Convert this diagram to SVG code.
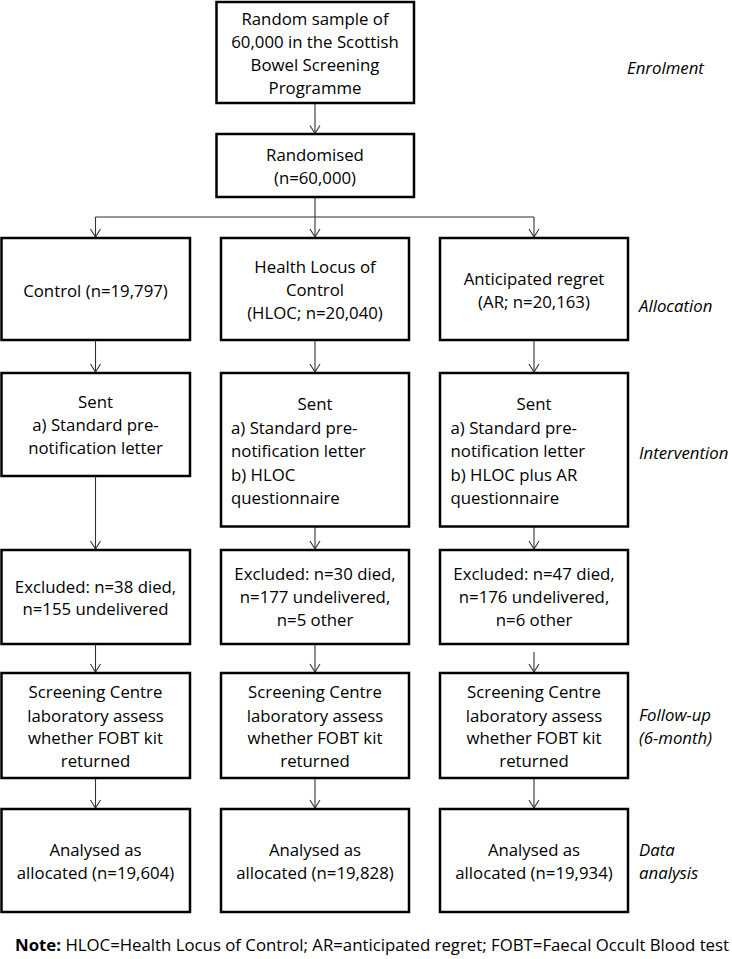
<svg xmlns="http://www.w3.org/2000/svg" width="732" height="959" viewBox="0 0 732 959">
<style>
.box{fill:#fff;stroke:#000;stroke-width:2.5}
.t{font-family:"Open Sans","Liberation Sans",sans-serif;font-size:16.8px;fill:#000;text-anchor:middle}
.l{text-anchor:start}
.lab{font-family:"Open Sans","Liberation Sans",sans-serif;font-size:16.8px;font-style:italic;fill:#000}
.c{fill:none;stroke:#333;stroke-width:1.1}
</style>
<defs>
<marker id="ah" viewBox="-9 -6 10 12" refX="0" refY="0" markerWidth="10" markerHeight="12" markerUnits="userSpaceOnUse" orient="auto">
<path d="M-8,-5 L0,0 L-8,5" fill="none" stroke="#333" stroke-width="1.1"/>
</marker>
</defs>
<rect width="732" height="959" fill="#fff"/>
<g id="connectors">
<path class="c" d="M315,103 V133.5" marker-end="url(#ah)"/>
<path class="c" d="M315,197 V237" marker-end="url(#ah)"/>
<path class="c" d="M95.5,217 H534" stroke="#555"/>
<path class="c" d="M95.5,217 V237" marker-end="url(#ah)"/>
<path class="c" d="M534,217 V237" marker-end="url(#ah)"/>
<path class="c" d="M95.5,340 V372" marker-end="url(#ah)"/>
<path class="c" d="M315,340 V372" marker-end="url(#ah)"/>
<path class="c" d="M534,340 V372" marker-end="url(#ah)"/>
<path class="c" d="M95.5,476 V549" marker-end="url(#ah)"/>
<path class="c" d="M315,526.5 V549" marker-end="url(#ah)"/>
<path class="c" d="M534,526.5 V549" marker-end="url(#ah)"/>
<path class="c" d="M95.5,644 V672" marker-end="url(#ah)"/>
<path class="c" d="M315,644 V672" marker-end="url(#ah)"/>
<path class="c" d="M534,652 V672" marker-end="url(#ah)"/>
<path class="c" d="M95.5,778 V808" marker-end="url(#ah)"/>
<path class="c" d="M315,778 V808" marker-end="url(#ah)"/>
<path class="c" d="M534,778 V808" marker-end="url(#ah)"/>
</g>
<g id="enrol">
<rect class="box" x="216.5" y="2" width="197.5" height="101"/>
<text class="t" x="315" y="25">Random sample of</text>
<text class="t" x="315" y="48">60,000 in the Scottish</text>
<text class="t" x="315" y="71">Bowel Screening</text>
<text class="t" x="315" y="94">Programme</text>
</g>
<g id="randomised">
<rect class="box" x="216.5" y="134" width="197.5" height="63"/>
<text class="t" x="315" y="161">Randomised</text>
<text class="t" x="315" y="184">(n=60,000)</text>
</g>
<g id="control">
<rect class="box" x="1.5" y="238" width="188.5" height="102"/>
<text class="t" x="95.5" y="297">Control (n=19,797)</text>
</g>
<g id="hloc">
<rect class="box" x="221" y="238" width="188" height="102"/>
<text class="t" x="315" y="273">Health Locus of</text>
<text class="t" x="315" y="296">Control</text>
<text class="t" x="315" y="319">(HLOC; n=20,040)</text>
</g>
<g id="ar">
<rect class="box" x="440" y="238" width="188" height="102"/>
<text class="t" x="534" y="285">Anticipated regret</text>
<text class="t" x="534" y="308">(AR; n=20,163)</text>
</g>
<g id="sent-control">
<rect class="box" x="1.5" y="373" width="188.5" height="103"/>
<text class="t" x="95.5" y="408">Sent</text>
<text class="t" x="95.5" y="431">a) Standard pre-</text>
<text class="t" x="95.5" y="454">notification letter</text>
</g>
<g id="sent-hloc">
<rect class="box" x="221" y="373" width="188" height="153.5"/>
<text class="t" x="315" y="410">Sent</text>
<text class="t l" x="231" y="433.5">a) Standard pre-</text>
<text class="t l" x="231" y="457">notification letter</text>
<text class="t l" x="231" y="480.5">b) HLOC</text>
<text class="t l" x="231" y="503.5">questionnaire</text>
</g>
<g id="sent-ar">
<rect class="box" x="440" y="373" width="188" height="153.5"/>
<text class="t" x="534" y="410">Sent</text>
<text class="t l" x="450.5" y="433.5">a) Standard pre-</text>
<text class="t l" x="450.5" y="457">notification letter</text>
<text class="t l" x="450.5" y="480.5">b) HLOC plus AR</text>
<text class="t l" x="450.5" y="503.5">questionnaire</text>
</g>
<g id="excl-control">
<rect class="box" x="1.5" y="550" width="188.5" height="94"/>
<text class="t" x="95.5" y="592.5">Excluded: n=38 died,</text>
<text class="t" x="95.5" y="615">n=155 undelivered</text>
</g>
<g id="excl-hloc">
<rect class="box" x="221" y="550" width="188" height="94"/>
<text class="t" x="315" y="580">Excluded: n=30 died,</text>
<text class="t" x="315" y="603">n=177 undelivered,</text>
<text class="t" x="315" y="626">n=5 other</text>
</g>
<g id="excl-ar">
<rect class="box" x="440" y="550" width="188" height="94"/>
<text class="t" x="534" y="580">Excluded: n=47 died,</text>
<text class="t" x="534" y="603">n=176 undelivered,</text>
<text class="t" x="534" y="626">n=6 other</text>
</g>
<g id="follow-control">
<rect class="box" x="1.5" y="673" width="188.5" height="105"/>
<text class="t" x="95.5" y="698">Screening Centre</text>
<text class="t" x="95.5" y="721.5">laboratory assess</text>
<text class="t" x="95.5" y="744">whether FOBT kit</text>
<text class="t" x="95.5" y="767">returned</text>
</g>
<g id="follow-hloc">
<rect class="box" x="221" y="673" width="188" height="105"/>
<text class="t" x="315" y="698">Screening Centre</text>
<text class="t" x="315" y="721.5">laboratory assess</text>
<text class="t" x="315" y="744">whether FOBT kit</text>
<text class="t" x="315" y="767">returned</text>
</g>
<g id="follow-ar">
<rect class="box" x="440" y="673" width="188" height="105"/>
<text class="t" x="534" y="698">Screening Centre</text>
<text class="t" x="534" y="721.5">laboratory assess</text>
<text class="t" x="534" y="744">whether FOBT kit</text>
<text class="t" x="534" y="767">returned</text>
</g>
<g id="analysis-control">
<rect class="box" x="1.5" y="809" width="188.5" height="103"/>
<text class="t" x="95.5" y="856">Analysed as</text>
<text class="t" x="95.5" y="879">allocated (n=19,604)</text>
</g>
<g id="analysis-hloc">
<rect class="box" x="221" y="809" width="188" height="103"/>
<text class="t" x="315" y="856">Analysed as</text>
<text class="t" x="315" y="879">allocated (n=19,828)</text>
</g>
<g id="analysis-ar">
<rect class="box" x="440" y="809" width="188" height="103"/>
<text class="t" x="534" y="856">Analysed as</text>
<text class="t" x="534" y="879">allocated (n=19,934)</text>
</g>
<g id="stage-labels">
<text class="lab" x="627" y="74">Enrolment</text>
<text class="lab" x="639" y="312">Allocation</text>
<text class="lab" x="639" y="459">Intervention</text>
<text class="lab" x="639" y="721">Follow-up</text>
<text class="lab" x="639" y="744">(6-month)</text>
<text class="lab" x="639" y="856">Data</text>
<text class="lab" x="639" y="879">analysis</text>
</g>
<g id="note">
<text class="t l" x="15" y="951" font-size="16.6px"><tspan font-weight="bold">Note:</tspan> HLOC=Health Locus of Control; AR=anticipated regret; FOBT=Faecal Occult Blood test</text>
</g>
</svg>
